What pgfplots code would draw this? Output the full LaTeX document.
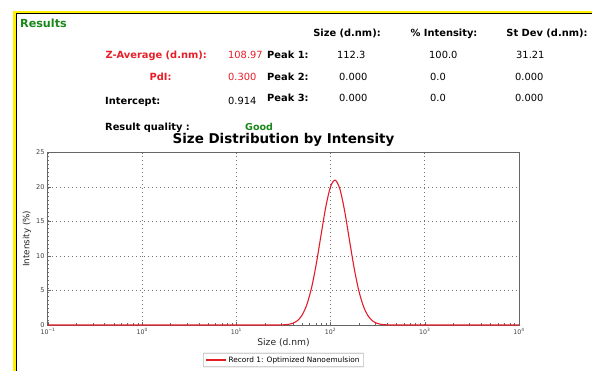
\documentclass[border=0pt]{standalone}
\usepackage{pgfplots}
\pgfplotsset{compat=1.18}
\usepackage{fontspec}
\setmainfont{DejaVu Sans}
\definecolor{zred}{RGB}{232,30,40}
\definecolor{zgreen}{RGB}{25,135,25}
\definecolor{curvered}{RGB}{228,28,40}
\newcommand{\fs}[1]{\fontsize{#1}{#1}\selectfont}
\begin{document}
\begin{tikzpicture}
\path[use as bounding box] (0,0) rectangle (592bp,-371bp);
\fill[white] (0,0) rectangle (592bp,-371bp);
% frame
\fill[yellow] (13.3bp,-10.7bp) rectangle (592bp,-13.3bp);
\fill[yellow] (13.3bp,-10.7bp) rectangle (16bp,-371bp);
\draw[black,line width=0.7bp] (16.2bp,-371bp) -- (16.2bp,-13.6bp) -- (592bp,-13.6bp);
\begin{axis}[
  at={(48bp,-325bp)}, anchor=south west,
  scale only axis, width=471bp, height=172.5bp,
  xmode=log, xmin=0.1, xmax=10000, ymin=0, ymax=25,
  ytick={0,5,10,15,20,25},
  xtick={0.1,1,10,100,1000,10000},
  xticklabels={10\textsuperscript{−1},10\textsuperscript{0},10\textsuperscript{1},10\textsuperscript{2},10\textsuperscript{3},10\textsuperscript{4}},
  tick pos=left,
  grid=major,
  major grid style={black!55, line width=0.8bp, dash pattern=on 0.8bp off 3.2bp},
  axis line style={draw=black!60, line width=1bp},
  tick align=inside, tick style={black!60, line width=0.5bp},
  major tick length=3bp, minor tick length=2bp,
  xticklabel style={font=\fs{6.3}, text=black!75},
  yticklabel style={font=\fs{6.6}, text=black!75},
  /pgf/number format/assume math mode=true,
  xlabel={Size (d.nm)}, ylabel={Intensity (\%)},
  every axis x label/.style={at={(axis description cs:0.5,-0.104)}, anchor=center, font=\fs{9.2}, text=black!85},
  every axis y label/.style={at={(axis description cs:-0.0446,0.5)}, anchor=center, rotate=90, font=\fs{8.8}, text=black!85},
  legend style={at={(axis description cs:0.5,-0.203)}, anchor=center, draw=black!50, font=\fs{7.4}, inner xsep=2bp, inner ysep=1.3bp, rounded corners=0.5bp},
  legend cell align=left,
  legend image code/.code={\draw[#1] (0bp,0bp) -- (20bp,0bp);},
]
\addplot[curvered, line width=1.1bp, smooth] coordinates {
(0.1,0) (10,0) (25.12,0.002) (28.18,0.008) (31.62,0.029) (35.48,0.091) (39.81,0.258)
(44.67,0.656) (50.12,1.49) (56.23,3.04) (63.10,5.53) (70.79,9.02) (79.43,13.16)
(89.13,17.18) (100,20.08) (112.2,20.99) (125.9,19.64) (141.3,16.44) (158.5,12.31)
(177.8,8.25) (199.5,4.95) (223.9,2.66) (251.2,1.28) (281.8,0.549) (316.2,0.211)
(354.8,0.073) (398.1,0.022) (446.7,0.006) (501.2,0) (10000,0)
};
\addlegendentry{Record 1: Optimized Nanoemulsion}
\end{axis}
% texts
\node[anchor=base west, text=zgreen, font=\bfseries\fs{11.2}, inner sep=0] at (20bp,-27bp) {Results};
% header
\node[anchor=base, font=\bfseries\fs{9.9}, inner sep=0] at (347bp,-36.5bp) {Size (d.nm):};
\node[anchor=base, font=\bfseries\fs{9.9}, inner sep=0] at (444bp,-36.5bp) {\% Intensity:};
\node[anchor=base, font=\bfseries\fs{9.9}, inner sep=0] at (547bp,-36.5bp) {St Dev (d.nm):};
% left labels
\node[anchor=base east, text=zred, font=\bfseries\fs{9.9}, inner sep=0] at (207bp,-58.6bp) {Z-Average (d.nm):};
\node[anchor=base, text=zred, font=\bfseries\fs{9.9}, inner sep=0] at (160.5bp,-80.6bp) {PdI:};
\node[anchor=base west, font=\bfseries\fs{9.9}, inner sep=0] at (105bp,-104.6bp) {Intercept:};
\node[anchor=base west, font=\bfseries\fs{9.9}, inner sep=0] at (105bp,-130.6bp) {Result quality :};
% left values
\node[anchor=base west, text=zred, font=\fs{9.9}, inner sep=0] at (228bp,-58.6bp) {108.97};
\node[anchor=base west, text=zred, font=\fs{9.9}, inner sep=0] at (228bp,-80.6bp) {0.300};
\node[anchor=base west, font=\fs{9.9}, inner sep=0] at (228bp,-104.6bp) {0.914};
\node[anchor=base west, text=zgreen, font=\bfseries\fs{9.6}, inner sep=0] at (245bp,-130.6bp) {Good};
% peaks
\node[anchor=base west, font=\bfseries\fs{9.9}, inner sep=0] at (267bp,-58.6bp) {Peak 1:};
\node[anchor=base west, font=\bfseries\fs{9.9}, inner sep=0] at (267bp,-80.6bp) {Peak 2:};
\node[anchor=base west, font=\bfseries\fs{9.9}, inner sep=0] at (267bp,-101.6bp) {Peak 3:};
\node[anchor=base west, font=\fs{9.9}, inner sep=0] at (337bp,-58.6bp) {112.3};
\node[anchor=base west, font=\fs{9.9}, inner sep=0] at (429bp,-58.6bp) {100.0};
\node[anchor=base west, font=\fs{9.9}, inner sep=0] at (516bp,-58.6bp) {31.21};
\node[anchor=base west, font=\fs{9.9}, inner sep=0] at (339bp,-80.6bp) {0.000};
\node[anchor=base west, font=\fs{9.9}, inner sep=0] at (430bp,-80.6bp) {0.0};
\node[anchor=base west, font=\fs{9.9}, inner sep=0] at (515bp,-80.6bp) {0.000};
\node[anchor=base west, font=\fs{9.9}, inner sep=0] at (339bp,-101.6bp) {0.000};
\node[anchor=base west, font=\fs{9.9}, inner sep=0] at (430bp,-101.6bp) {0.0};
\node[anchor=base west, font=\fs{9.9}, inner sep=0] at (515bp,-101.6bp) {0.000};
% title
\node[anchor=base, font=\bfseries\fs{13.5}, inner sep=0] at (283.5bp,-143bp) {Size Distribution by Intensity};
\end{tikzpicture}
\end{document}
